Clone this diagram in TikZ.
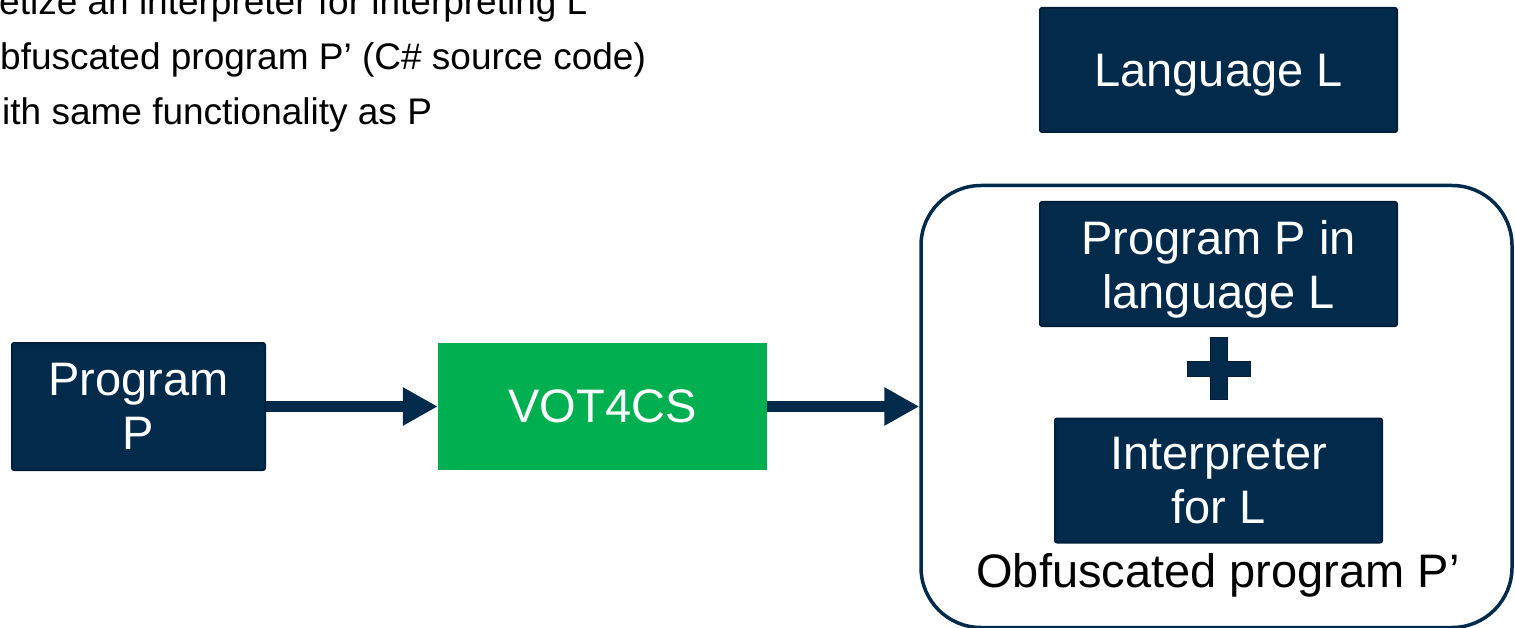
\documentclass[tikz,border=0pt]{standalone}
\usepackage{fontspec}
\setmainfont{Liberation Sans}
\usetikzlibrary{arrows.meta,positioning}

\definecolor{navy}{HTML}{022A4B}
\definecolor{navyline}{HTML}{011F3A}
\definecolor{votgreen}{HTML}{00B050}

\tikzset{
  darkbox/.style={draw=navyline, fill=navy, line width=2pt, rounded corners=2pt,
    text=white, align=center, inner sep=0pt, text depth=0pt,
    font=\fontsize{47}{54}\selectfont},
  greenbox/.style={fill=votgreen, text=white, inner sep=0pt, text depth=0pt,
    font=\fontsize{47}{54}\selectfont},
  frame/.style={draw=navy, fill=white, line width=3.5pt, rounded corners=60pt},
  flow/.style={draw=navy, line width=11pt, -{Triangle[length=35pt,width=36pt]}},
  bullet/.style={anchor=base west, inner sep=0pt, font=\fontsize{37}{44}\selectfont}
}

\begin{document}
\begin{tikzpicture}[x=1pt,y=-1pt]
    \useasboundingbox (0,0) rectangle (1515,628);
    \clip (0,0) rectangle (1515,628);

    % text at the top left
    \node[bullet] (line1) at (-1,15)  {etize an interpreter for interpreting L};
    \node[bullet] (line2) at (0,70)   {bfuscated program P’ (C\# source code)};
    \node[bullet] (line3) at (2,125)  {ith same functionality as P};

    \node[darkbox, minimum width=357pt, minimum height=124pt] (lang) at (1218.5,70) {Language L};

    % input and tool
    \node[darkbox, minimum width=253pt, minimum height=127pt] (prog) at (138.5,406.5) {Program\\P};
    \node[greenbox, minimum width=329pt, minimum height=127pt] (vot) at (602.5,406.5) {VOT4CS};

    % output
    \node[frame, minimum width=591pt, minimum height=442pt] (obf) at (1216.5,406.5) {};
    \node[darkbox, minimum width=357pt, minimum height=124pt] (progL) at (1218.5,264) {Program P in\\language L};
    \node[darkbox, minimum width=327pt, minimum height=124pt] (interp) at (1218.5,480.5) {Interpreter\\for L};
    \node[anchor=base, inner sep=0pt, font=\fontsize{47}{54}\selectfont] (obflabel) at (1218,587) {Obfuscated program P’};

    \fill[navy, draw=navyline, line width=1pt] (1210,337) rectangle (1227,399);
    \fill[navy, draw=navyline, line width=1pt] (1187,361) rectangle (1250,376);
    \fill[navy] (1211,338) rectangle (1226,398);

    \draw[flow] (prog) -- (vot);
    \draw[flow] (vot) -- (obf);
  \end{tikzpicture}
\end{document}
